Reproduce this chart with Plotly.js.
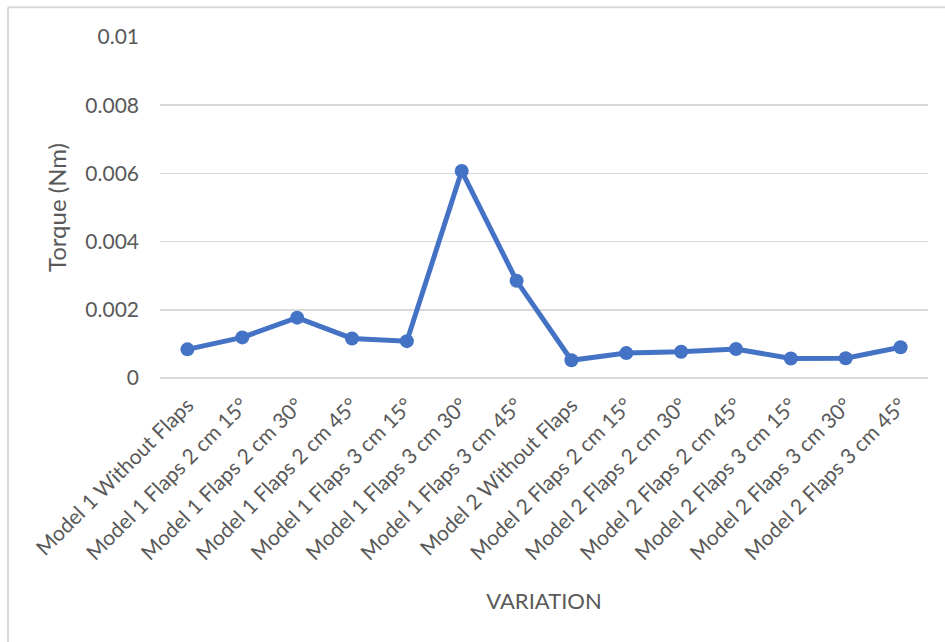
<!DOCTYPE html>
<html>
<head>
<meta charset="utf-8">
<script src="https://cdn.plot.ly/plotly-3.0.1.min.js"></script>
<style>
html,body{margin:0;padding:0;background:#fff;overflow:hidden;}
#chart{width:945px;height:642px;}
</style>
</head>
<body>
<div id="chart"></div>
<script>
const categories = [
  "Model 1 Without Flaps",
  "Model 1 Flaps 2 cm 15°",
  "Model 1 Flaps 2 cm 30°",
  "Model 1 Flaps 2 cm 45°",
  "Model 1 Flaps 3 cm 15°",
  "Model 1 Flaps 3 cm 30°",
  "Model 1 Flaps 3 cm 45°",
  "Model 2 Without Flaps",
  "Model 2 Flaps 2 cm 15°",
  "Model 2 Flaps 2 cm 30°",
  "Model 2 Flaps 2 cm 45°",
  "Model 2 Flaps 3 cm 15°",
  "Model 2 Flaps 3 cm 30°",
  "Model 2 Flaps 3 cm 45°"
];
const torque = [0.00084, 0.00119, 0.00177, 0.00116, 0.00108, 0.00607, 0.00285,
                0.00052, 0.00073, 0.00077, 0.00085, 0.00057, 0.00058, 0.00090];
const yTickVals = [0, 0.002, 0.004, 0.006, 0.008, 0.01];
const yTickText = ["0", "0.002", "0.004", "0.006", "0.008", "0.01"];

const FONT = "Lato, 'Liberation Sans', sans-serif";
const GREY = "#595959";
const GRID = "#d9d9d9";

const trace = {
  x: categories,
  y: torque,
  type: "scatter",
  mode: "lines+markers",
  line: {color: "#4472C4", width: 5},
  marker: {color: "#4472C4", size: 14},
  hoverinfo: "x+y"
};

const layout = {
  width: 945,
  height: 642,
  paper_bgcolor: "#ffffff",
  plot_bgcolor: "#ffffff",
  showlegend: false,
  margin: {l: 160, r: 17, t: 37, b: 264},
  font: {family: FONT, color: GREY, size: 21},
  xaxis: {
    type: "category",
    range: [-0.5, categories.length - 0.5],
    tickangle: -45,
    tickfont: {family: FONT, color: GREY, size: 21},
    showgrid: false,
    zeroline: false,
    showline: false,
    ticks: "",
    ticklabelstandoff: 10,
    title: {text: "VARIATION", font: {family: FONT, color: GREY, size: 22}, standoff: 30},
    automargin: false
  },
  yaxis: {
    range: [0, 0.01],
    tickvals: yTickVals,
    ticktext: yTickText,
    tickfont: {family: FONT, color: GREY, size: 21},
    showgrid: true,
    gridcolor: GRID,
    gridwidth: 1.5,
    zeroline: true,
    zerolinecolor: GRID,
    zerolinewidth: 1.5,
    showline: false,
    ticks: "",
    ticklabelstandoff: 20,
    title: {text: "Torque (Nm)", font: {family: FONT, color: GREY, size: 24}, standoff: 11},
    automargin: false
  },
  shapes: [
    {type: "line", xref: "paper", yref: "paper", x0: -0.1979, x1: 1.2, y0: 1.087, y1: 1.087,
     line: {color: GRID, width: 2}},
    {type: "line", xref: "paper", yref: "paper", x0: -0.1979, x1: -0.1979, y0: 1.087, y1: -1,
     line: {color: GRID, width: 2}}
  ]
};

Plotly.newPlot("chart", [trace], layout, {displayModeBar: false, staticPlot: true});
</script>
</body>
</html>
